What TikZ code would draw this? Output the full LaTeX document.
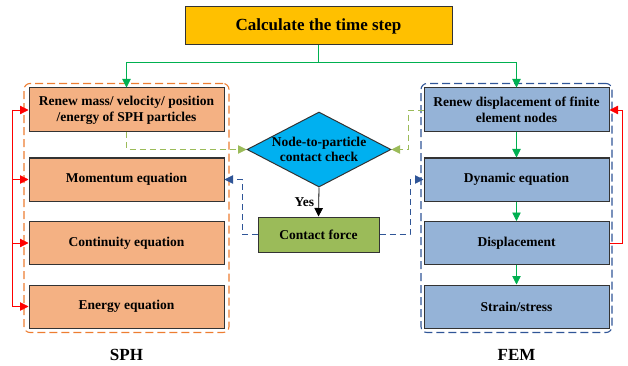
\documentclass[tikz,border=0pt]{standalone}
\usepackage{fontspec}
\setmainfont{Liberation Serif}
\usetikzlibrary{arrows.meta, shapes.geometric, fit, positioning}
\definecolor{topfill}{HTML}{FFC000}
\definecolor{sphfill}{HTML}{F4B183}
\definecolor{femfill}{HTML}{95B3D7}
\definecolor{chkfill}{HTML}{00B0F0}
\definecolor{cffill}{HTML}{9BBB59}
\definecolor{grnline}{HTML}{00B050}
\definecolor{oliveline}{HTML}{9BBB59}
\definecolor{blueline}{HTML}{2F5597}
\definecolor{orgline}{HTML}{ED7D31}
\definecolor{redline}{HTML}{FF0000}
\tikzset{
    box/.style={draw=black!80, line width=1pt, align=center, inner sep=0pt,
        minimum height=43pt, font=\fontsize{13.5}{16}\selectfont\bfseries},
    sphbox/.style={box, fill=sphfill, minimum width=195pt},
    fembox/.style={box, fill=femfill, minimum width=185pt},
    tip/.style={-{Triangle[length=8.5pt, width=8.5pt]}},
    grnarr/.style={tip, color=grnline, line width=0.8pt},
    redarr/.style={tip, color=redline, line width=0.8pt},
    olivearr/.style={tip, color=oliveline, line width=0.9pt, dash pattern=on 6pt off 4pt},
    bluearr/.style={tip, color=blueline, line width=0.9pt, dash pattern=on 6pt off 4pt},
    grp/.style={rounded corners=6pt, line width=1.1pt, dash pattern=on 8pt off 4pt}
}
\begin{document}
\begin{tikzpicture}[x=1pt, y=-1pt]
    \useasboundingbox (0,0) rectangle (628,366);
    % top step
    \node[box, fill=topfill, minimum width=267pt, minimum height=38pt,
        font=\fontsize{17}{20}\selectfont\bfseries] (top) at (318.5,26) {Calculate the time step};
    % SPH column
    \node[sphbox, minimum height=44pt] (s1) at (126.5,110) {Renew mass/ velocity/ position\\/energy of SPH particles};
    \node[sphbox] (s2) at (126.5,179.5) {Momentum equation};
    \node[sphbox] (s3) at (126.5,243) {Continuity equation};
    \node[sphbox] (s4) at (126.5,306.5) {Energy equation};
    \node[grp, draw=orgline, fit=(s1)(s4), inner xsep=4.5pt, inner ysep=4pt] (sph) {};
    % FEM column
    \node[fembox, minimum height=44pt] (f1) at (516.5,110) {Renew displacement of finite\\element nodes};
    \node[fembox] (f2) at (516.5,179.5) {Dynamic equation};
    \node[fembox] (f3) at (516.5,243) {Displacement};
    \node[fembox] (f4) at (516.5,306.5) {Strain/stress};
    \node[grp, draw=blueline, fit=(f1)(f4), inner xsep=2.5pt, inner ysep=4pt] (fem) {};
    % contact
    \node[diamond, draw=black!80, line width=1pt, fill=chkfill, inner sep=0pt,
        minimum width=144pt, minimum height=75pt] (chk) at (319,149.5) {};
    \node[align=center, font=\fontsize{13.5}{14.5}\selectfont\bfseries] (chktxt) at (chk) {Node-to-particle\\contact check};
    \node[box, fill=cffill, minimum width=121pt, minimum height=35pt] (cf) at (318.5,234.5) {Contact force};
    \node[font=\fontsize{17}{20}\selectfont\bfseries] (sphlbl) at (126.5,355) {SPH};
    \node[font=\fontsize{17}{20}\selectfont\bfseries] (femlbl) at (516.5,355) {FEM};
    % flow
    \draw[line width=0.8pt, draw=grnline] (top.south) -- ++(0,17) coordinate (split);
    \draw[grnarr] (split) -| (s1.north);
    \draw[grnarr] (split) -| (f1.north);
    \draw[grnarr] (f1) -- (f2);
    \draw[grnarr] (f2) -- (f3);
    \draw[grnarr] (f3) -- (f4);
    \draw[tip, line width=0.8pt] (chk.south) -- node[left, font=\fontsize{13.5}{16}\selectfont\bfseries, xshift=-1pt] (yes) {Yes} (cf.north);
    \draw[olivearr] (s1.south) |- (chk.west);
    \draw[olivearr] (f1.west) -- ++(-15,0) |- (chk.east);
    \draw[bluearr] (cf.west) -- ++(-15,0) |- (s2.east);
    \draw[bluearr] (cf.east) -- ++(30.5,0) |- (f2.west);
    % red loops
    \coordinate (bus) at (12,0);
    \draw[draw=redline, line width=0.8pt] (s1.west -| bus) -- (s4.west -| bus);
    \foreach \i in {1,...,4}
        \draw[redarr] (s\i.west -| bus) -- (s\i.west);
    \draw[redarr] (f3.east) -- ++(13,0) |- (f1.east);
\end{tikzpicture}
\end{document}
